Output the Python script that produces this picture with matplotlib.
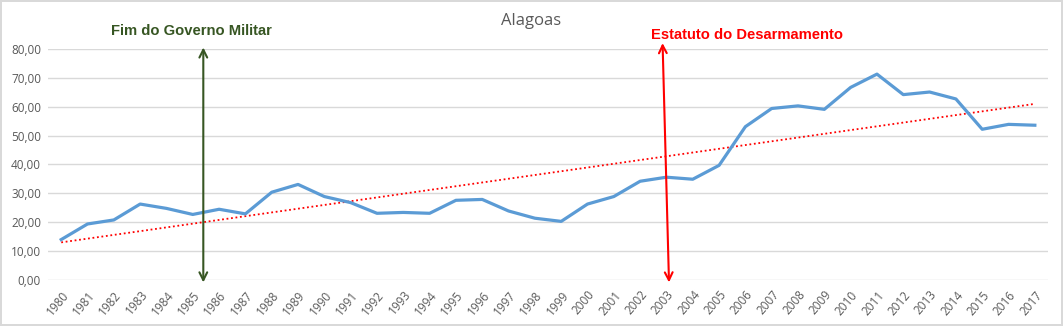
import matplotlib
matplotlib.use("Agg")
import matplotlib.pyplot as plt
import numpy as np

# Taxa anual - Alagoas
anos = list(range(1980, 2018))
taxas = [14.0, 19.4, 20.8, 26.3, 24.8, 22.7, 24.5, 22.9, 30.4, 33.1,
         28.9, 26.8, 23.1, 23.4, 23.1, 27.6, 27.9, 23.9, 21.4, 20.3,
         26.3, 28.9, 34.2, 35.6, 34.9, 39.7, 53.1, 59.4, 60.3, 59.1,
         66.7, 71.3, 64.2, 65.1, 62.7, 52.2, 53.9, 53.6]
y_ticks = [0, 10, 20, 30, 40, 50, 60, 70, 80]

# marcos históricos
marco_militar = 1985.4
marco_desarm = 2003.0

plt.rcParams["font.family"] = ["Open Sans", "DejaVu Sans"]

fig = plt.figure(figsize=(10.63, 3.26), dpi=100)
fig.patch.set_edgecolor("#d9d9d9")
fig.patch.set_linewidth(1.5)
ax = fig.add_axes([0.0452, 0.1411, 0.9407, 0.7086])

ax.plot(anos, taxas, color="#5b9bd5", linewidth=2.3, zorder=3)

# linha de tendência (regressão linear)
coef = np.polyfit(anos, taxas, 1)
ax.plot(anos, np.polyval(coef, anos), color="#ff0000", linestyle=(0, (1, 1.5)),
        linewidth=1.3, zorder=2)

ax.set_xlim(1979.5, 2017.5)
ax.set_ylim(0, 80)
ax.set_yticks(y_ticks)
ax.set_yticklabels([f"{v:.2f}".replace(".", ",") for v in y_ticks])
ax.set_xticks(anos)
ax.set_xticklabels([str(a) for a in anos], rotation=50, ha="right",
                   rotation_mode="anchor")
ax.tick_params(length=0, labelsize=8.5, colors="#595959", pad=5)
ax.tick_params(axis="x", pad=6)
ax.grid(axis="y", color="#d9d9d9", linewidth=1)
ax.set_axisbelow(True)
for s in ax.spines.values():
    s.set_visible(False)

ax.text(1997.85, 89.6, "Alagoas", fontsize=12, color="#595959",
        ha="center", va="center", clip_on=False)

ax.annotate("", xy=(marco_militar, -1.8), xytext=(marco_militar, 81.5),
            arrowprops=dict(arrowstyle="<->", color="#375623", lw=1.5,
                            mutation_scale=14),
            annotation_clip=False)
ax.text(marco_militar - 0.45, 86.2, "Fim do Governo Militar", color="#375623",
        fontsize=10.6, fontweight="bold", family="Liberation Sans",
        ha="center", va="center", clip_on=False)

ax.annotate("", xy=(marco_desarm + 0.1, -1.8), xytext=(marco_desarm - 0.15, 83.0),
            arrowprops=dict(arrowstyle="<->", color="#ff0000", lw=1.5,
                            mutation_scale=14),
            annotation_clip=False)
ax.text(2006.05, 85.0, "Estatuto do Desarmamento", color="#ff0000",
        fontsize=10.6, fontweight="bold", family="Liberation Sans",
        ha="center", va="center", clip_on=False)

fig.savefig("out.png", dpi=100)
